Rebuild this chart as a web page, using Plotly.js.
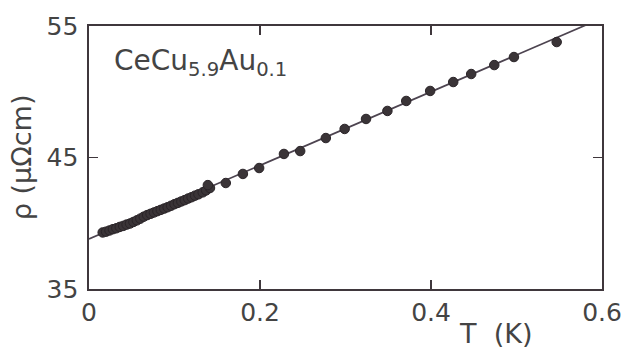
<!DOCTYPE html>
<html>
<head>
<meta charset="utf-8">
<script src="https://cdn.plot.ly/plotly-3.0.1.min.js"></script>
<style>html,body{margin:0;padding:0;background:#fff;}#chart{width:628px;height:361px;}</style>
</head>
<body>
<div id="chart"></div>
<script>
// Measured resistivity data (T in K, rho in µΩcm)
const tempK = [0.016,0.020,0.024,0.028,0.032,0.036,0.040,0.044,0.048,0.052,0.056,0.060,0.064,0.068,0.072,0.076,0.080,0.084,0.088,0.092,0.096,0.100,0.104,0.108,0.112,0.116,0.120,0.124,0.128,0.133,0.137,0.1415,0.139,
  0.160,0.180,0.199,0.228,0.247,0.277,0.299,0.324,0.349,0.371,0.399,0.426,0.447,0.474,0.497,0.547];
const rho = [39.30,39.36,39.45,39.55,39.62,39.72,39.80,39.90,39.98,40.10,40.22,40.35,40.50,40.62,40.72,40.82,40.92,41.02,41.12,41.22,41.33,41.45,41.55,41.66,41.76,41.88,41.98,42.10,42.20,42.35,42.50,42.68,42.90,
  43.06,43.75,44.20,45.27,45.49,46.48,47.17,47.93,48.54,49.30,50.06,50.74,51.35,52.03,52.64,53.78];
// Linear fit line
const fitT = [0, 0.6];
const fitRho = [38.8, 55.6];
// Axis ticks
const xTicks = [0, 0.2, 0.4, 0.6];
const xTickLabels = ['0', '0.2', '0.4', '0.6'];
const yTicks = [35, 45, 55];
const yTickLabels = ['35', '45', '55'];

const ink = '#3f373c';
const font = 'DejaVu Sans, Arial, sans-serif';

const traces = [
  {x: fitT, y: fitRho, mode: 'lines', line: {color: '#4d4450', width: 1.7}, hoverinfo: 'skip', showlegend: false},
  {x: tempK, y: rho, mode: 'markers', marker: {size: 9.5, color: '#3a3437', line: {color: '#2a2428', width: 1}}, showlegend: false}
];

const axisCommon = {
  showgrid: false, zeroline: false, showline: true, linecolor: ink, linewidth: 1.6,
  ticks: 'inside', ticklen: 9, tickwidth: 1.5, tickcolor: ink, mirror: 'ticks',
  tickfont: {family: font, size: 25, color: '#444'}, fixedrange: true
};

const layout = {
  width: 628, height: 361,
  margin: {l: 89, r: 26, t: 26, b: 72},
  paper_bgcolor: '#fff', plot_bgcolor: '#fff',
  xaxis: Object.assign({}, axisCommon, {range: [0, 0.6], tickvals: xTicks, ticktext: xTickLabels}),
  yaxis: Object.assign({}, axisCommon, {range: [35, 55], tickvals: yTicks, ticktext: yTickLabels, ticklabelstandoff: 4}),
  annotations: [
    {text: 'CeCu<sub>5.9</sub>Au<sub>0.1</sub>', xref: 'paper', yref: 'paper', x: 0.045, y: 0.862, xanchor: 'left', yanchor: 'middle', showarrow: false, font: {family: font, size: 28, color: '#444'}},
    {text: 'T\u00a0\u00a0(K)', xref: 'paper', yref: 'paper', x: 0.793, y: -0.171, xanchor: 'center', yanchor: 'middle', showarrow: false, font: {family: font, size: 27, color: '#444'}},
    {text: 'ρ (μΩcm)', xref: 'paper', yref: 'paper', x: -0.131, y: 0.5, xanchor: 'center', yanchor: 'middle', textangle: -90, showarrow: false, font: {family: font, size: 27, color: '#444'}}
  ]
};

Plotly.newPlot('chart', traces, layout, {displayModeBar: false, staticPlot: true});
</script>
</body>
</html>
